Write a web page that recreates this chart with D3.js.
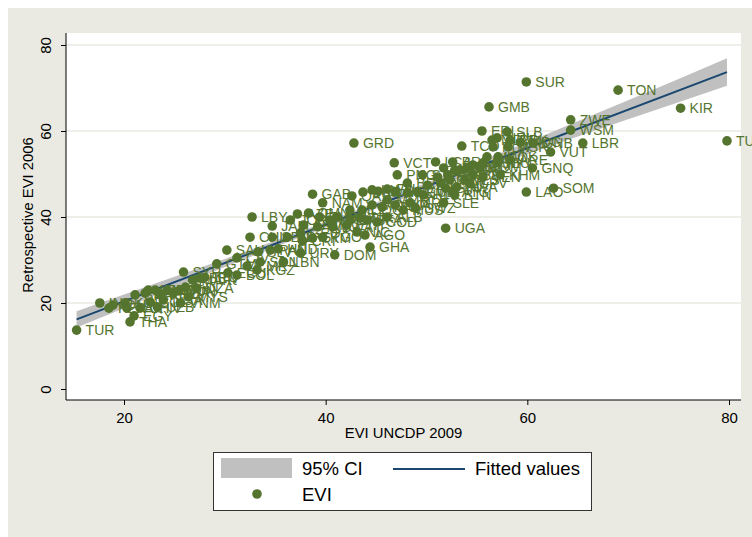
<!DOCTYPE html>
<html>
<head>
<meta charset="utf-8">
<script src="https://cdn.jsdelivr.net/npm/d3@7"></script>
<style>
body { margin: 0; background: #fff; }
text { font-family: Arial, "Liberation Sans", sans-serif; }
</style>
</head>
<body>
<div id="chart"></div>
<script>
// country codes, EVI UNCDP 2009 (x) and retrospective EVI 2006 (y)
var countries = ["TUR","IND","KEN","IDN","KOR","PAK","THA","EGY","BRA","CHN",
  "ZAF","ARG","COL","MEX","UZB","PHL","NGA","BGD","PER","TUN",
  "SYR","IRN","MYS","VNM","MAR","DZA","BEN","IRQ","GTM","SAU",
  "ECU","CIV","BOL","CMR","CHL","LBY","KGZ","SLV","SDN","PAN",
  "JAM","SEN","HND","LBN","PRY","JOR","AZE","GEO","URY","CRI",
  "ARM","OMN","GAB","TKM","MNG","ZMB","NAM","TGO","NPL","BWA",
  "DOM","GUY","ETH","CAF","MLI","QAT","NIC","GRD","TJK","COG",
  "BHR","AGO","BFA","GHA","KWT","MOZ","COD","BLZ","TTO","FJI",
  "MMR","ALB","VCT","NER","LKA","PNG","MUS","BRN","YEM","MRT",
  "SWZ","CUB","STP","HTI","DJI","LCA","BHS","LSO","SYC","SLE",
  "GIN","UGA","AFG","TZA","BRB","ATG","DMA","BTN","RWA","KNA",
  "TCD","TLS","MHL","CPV","FSM","BDI","COM","ERI","PSE","VEN",
  "MWI","GMB","MDV","PLW","NRU","NIU","COK","KHM","SLB","MSR",
  "ARE","PRK","MDG","SUR","LAO","GNQ","GNB","VUT","SOM","ZWE",
  "WSM","LBR","TON","KIR","TUV"];

var eviUncdp = [15.3, 17.6, 18.5, 18.9, 20.1, 20.3, 20.6, 21.0, 21.1, 21.6,
  22.1, 22.4, 22.6, 23.1, 23.3, 23.6, 23.9, 24.3, 24.9, 25.4,
  25.9, 26.1, 26.4, 25.6, 26.8, 27.2, 27.5, 28.0, 29.2, 30.2,
  30.3, 31.2, 31.2, 32.2, 32.5, 32.7, 33.2, 33.3, 33.5, 34.5,
  34.7, 34.7, 35.3, 35.8, 36.2, 36.5, 37.2, 37.5, 37.5, 37.7,
  37.8, 38.3, 38.7, 38.7, 39.2, 39.4, 39.7, 39.7, 40.4, 40.7,
  40.9, 41.1, 42.1, 42.4, 42.4, 42.6, 43.1, 42.8, 43.4, 43.6,
  43.7, 43.9, 44.1, 44.4, 44.6, 44.6, 45.1, 45.2, 45.6, 46.1,
  46.1, 46.1, 46.8, 46.9, 46.9, 47.1, 47.7, 48.1, 48.1, 48.4,
  48.9, 49.1, 49.6, 49.7, 50.1, 50.9, 51.1, 51.4, 51.7, 51.7,
  51.9, 51.9, 52.1, 52.3, 52.6, 52.6, 52.8, 52.8, 53.0, 53.3,
  53.5, 53.8, 54.0, 54.3, 54.6, 54.6, 55.3, 55.5, 55.6, 55.6,
  56.0, 56.2, 56.5, 56.6, 57.0, 57.0, 57.1, 57.3, 58.0, 58.1,
  58.3, 58.3, 59.3, 59.9, 59.9, 60.5, 60.6, 62.3, 62.6, 64.3,
  64.3, 65.5, 69.0, 75.2, 79.8];

var eviRetro = [13.7, 20.0, 18.8, 19.5, 20.0, 18.8, 15.6, 17.0, 21.9, 18.8,
  22.3, 23.0, 20.2, 23.0, 19.1, 22.1, 20.7, 23.0, 22.3, 22.8,
  27.2, 23.7, 21.4, 20.0, 25.3, 23.5, 25.8, 26.0, 29.1, 32.3,
  27.0, 30.5, 26.5, 28.6, 35.3, 40.0, 27.7, 31.9, 29.5, 32.3,
  37.9, 35.3, 32.6, 29.5, 35.3, 39.3, 40.7, 36.3, 31.6, 34.4,
  38.1, 40.9, 45.3, 35.1, 37.7, 40.0, 43.3, 35.3, 39.3, 37.7,
  31.2, 40.0, 38.1, 39.3, 41.6, 44.9, 36.5, 57.2, 39.8, 41.6,
  45.8, 35.8, 39.3, 33.0, 46.3, 42.8, 38.8, 46.0, 42.3, 46.5,
  44.0, 40.0, 52.6, 45.8, 42.8, 49.8, 41.6, 47.9, 45.6, 43.3,
  42.1, 45.8, 49.8, 45.1, 47.4, 52.8, 49.3, 47.9, 51.4, 43.3,
  46.7, 37.4, 49.8, 48.6, 52.8, 45.8, 50.9, 45.1, 47.0, 50.9,
  56.5, 48.6, 51.4, 47.9, 52.1, 49.8, 51.6, 60.0, 52.6, 49.3,
  54.0, 65.6, 57.9, 56.3, 58.4, 52.6, 54.0, 49.8, 59.8, 56.3,
  53.3, 57.9, 57.4, 71.4, 45.8, 51.4, 57.2, 55.1, 46.7, 62.6,
  60.2, 57.2, 69.5, 65.3, 57.7];

// fitted line and its 95% band
var fitX = [15.3, 79.8];
var fitY = [16.2, 73.7];
var ciX  = [15.3, 20, 25, 30, 35, 40, 45, 50, 55, 60, 65, 70, 75, 79.8];
var ciLo = [14.3, 18.8, 23.6, 28.35, 33.0, 37.55, 41.95, 46.25, 50.45, 54.6, 58.7, 62.75, 66.7, 70.5];
var ciHi = [18.1, 22.0, 26.1, 30.25, 34.5, 38.85, 43.35, 47.95, 52.7, 57.4, 62.25, 67.15, 72.1, 76.9];

var xTicks = [20, 40, 60, 80];
var yTicks = [0, 20, 40, 60, 80];
var yGrid = [20, 40, 60, 80];

var width = 752, height = 537;
var plot = {left: 66, right: 741, top: 33, bottom: 400};

var green = "#55752f", navy = "#1a476f", band = "#c0c0c0", bg = "#eaeae2";

var svg = d3.select("#chart").append("svg")
    .attr("width", width)
    .attr("height", height);

svg.append("rect")
    .attr("x", 8).attr("y", 8)
    .attr("width", width - 8).attr("height", height - 8)
    .attr("fill", bg);

svg.append("rect")
    .attr("x", plot.left).attr("y", plot.top)
    .attr("width", plot.right - plot.left).attr("height", plot.bottom - plot.top)
    .attr("fill", "#fff");

var x = d3.scaleLinear().domain([20, 80]).range([124, 729]);
var y = d3.scaleLinear().domain([0, 80]).range([389, 45]);

// grid
svg.append("g").selectAll("line")
    .data(yGrid)
  .enter().append("line")
    .attr("x1", plot.left).attr("x2", plot.right)
    .attr("y1", function(d) { return y(d); })
    .attr("y2", function(d) { return y(d); })
    .attr("stroke", bg)
    .attr("stroke-width", 1.5);

// CI band + fitted line
var ciData = ciX.map(function(v, i) { return {x: v, lo: ciLo[i], hi: ciHi[i]}; });
svg.append("path")
    .datum(ciData)
    .attr("fill", band)
    .attr("d", d3.area()
      .x(function(d) { return x(d.x); })
      .y0(function(d) { return y(d.lo); })
      .y1(function(d) { return y(d.hi); }));

svg.append("path")
    .datum(fitX.map(function(v, i) { return [v, fitY[i]]; }))
    .attr("fill", "none")
    .attr("stroke", navy)
    .attr("stroke-width", 2)
    .attr("d", d3.line()
      .x(function(d) { return x(d[0]); })
      .y(function(d) { return y(d[1]); }));

// points
var pts = countries.map(function(c, i) { return {name: c, x: eviUncdp[i], y: eviRetro[i]}; });

svg.append("g").selectAll("circle")
    .data(pts)
  .enter().append("circle")
    .attr("cx", function(d) { return x(d.x); })
    .attr("cy", function(d) { return y(d.y); })
    .attr("r", 4.8)
    .attr("fill", green);

svg.append("g").selectAll("text")
    .data(pts)
  .enter().append("text")
    .attr("x", function(d) { return x(d.x) + 9; })
    .attr("y", function(d) { return y(d.y); })
    .attr("dy", "0.36em")
    .attr("font-size", 14)
    .attr("fill", green)
    .text(function(d) { return d.name; });

// axes
var xAxis = svg.append("g")
    .attr("transform", "translate(0," + plot.bottom + ")")
    .call(d3.axisBottom(x).tickValues(xTicks).tickSize(5).tickPadding(7));
xAxis.select(".domain").remove();
xAxis.selectAll("text").attr("font-size", 15).attr("font-family", null).attr("fill", "#000");
xAxis.append("line")
    .attr("x1", plot.left).attr("x2", plot.right)
    .attr("stroke", "#000");

var yAxis = svg.append("g")
    .attr("transform", "translate(" + plot.left + ",0)")
    .call(d3.axisLeft(y).tickValues(yTicks).tickSize(5));
yAxis.select(".domain").remove();
yAxis.selectAll("text")
    .attr("font-size", 15).attr("font-family", null).attr("fill", "#000")
    .attr("x", 0).attr("y", -15).attr("dy", 0)
    .attr("text-anchor", "middle")
    .attr("transform", "rotate(-90)");
yAxis.append("line")
    .attr("y1", plot.top).attr("y2", plot.bottom)
    .attr("stroke", "#000");

svg.append("text")
    .attr("x", (plot.left + plot.right) / 2)
    .attr("y", 438)
    .attr("text-anchor", "middle")
    .attr("font-size", 14.8)
    .text("EVI UNCDP 2009");

svg.append("text")
    .attr("transform", "translate(33,215) rotate(-90)")
    .attr("text-anchor", "middle")
    .attr("font-size", 14.8)
    .text("Retrospective EVI 2006");

// legend
var lg = svg.append("g");
lg.append("rect")
    .attr("x", 213.5).attr("y", 452.5)
    .attr("width", 378).attr("height", 58)
    .attr("fill", "#fff").attr("stroke", "#333");
lg.append("rect")
    .attr("x", 221).attr("y", 458)
    .attr("width", 71).attr("height", 20)
    .attr("fill", band);
lg.append("text").attr("x", 302).attr("y", 475).attr("font-size", 18.5).text("95% CI");
lg.append("line")
    .attr("x1", 393).attr("x2", 465).attr("y1", 469).attr("y2", 469)
    .attr("stroke", navy).attr("stroke-width", 2);
lg.append("text").attr("x", 475).attr("y", 475).attr("font-size", 18.5).text("Fitted values");
lg.append("circle").attr("cx", 257).attr("cy", 494).attr("r", 4.8).attr("fill", green);
lg.append("text").attr("x", 302).attr("y", 501).attr("font-size", 18.5).text("EVI");
</script>
</body>
</html>
